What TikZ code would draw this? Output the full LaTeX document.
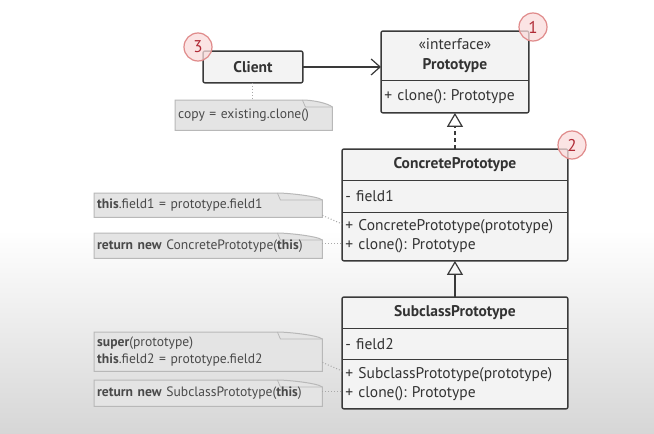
\documentclass[tikz,border=0pt]{standalone}
\usepackage{fontspec}
\setmainfont{PT Sans}
\usetikzlibrary{calc,arrows.meta}
\frenchspacing
\definecolor{boxfill}{HTML}{F3F3F3}
\definecolor{boxline}{HTML}{3A3A3A}
\definecolor{txt}{HTML}{333333}
\definecolor{notefill}{HTML}{E4E4E4}
\definecolor{noteline}{HTML}{B8B8B8}
\definecolor{notetxt}{HTML}{4A4A4A}
\definecolor{badgefill}{HTML}{FADCDC}
\definecolor{badgeline}{HTML}{E08A8A}
\definecolor{badgetxt}{HTML}{B02A36}
\definecolor{dotc}{HTML}{A8A8A8}
\tikzset{
  comp/.style={draw=boxline, fill=boxfill, line width=0.9pt, anchor=north west, inner sep=0pt, text=txt, font=\fontsize{15.5}{18}\selectfont},
  titlecomp/.style={comp, font=\fontsize{15.5}{18}\selectfont\bfseries, align=center},
  methcomp/.style={comp, align=left, text width=#1, inner xsep=3pt},
  outline/.style={draw=boxline, line width=1.4pt, rounded corners=2pt},
  notebox/.style={anchor=north west, inner xsep=3pt, inner ysep=0pt, align=left, text=notetxt, font=\fontsize{13.6}{17}\selectfont},
  noteshape/.style={fill=notefill, draw=noteline, line width=1pt},
  badge/.style={circle, minimum size=28pt, inner sep=0pt, fill=badgefill, fill opacity=0.75, text opacity=1, draw=badgeline, line width=1.2pt, text=badgetxt, font=\fontsize{17}{17}\selectfont},
  dotline/.style={draw=dotc, line width=1pt, dotted},
  assoc/.style={draw=boxline, line width=1.2pt, -{Straight Barb[length=9pt,width=16pt,line width=1.2pt]}},
  inherit/.style={draw=boxline, line width=1.2pt, -{Triangle[open,length=14pt,width=16pt,line width=1.2pt]}},
}
\newcommand{\notedraw}[2]{%
  \path[noteshape] (#1.north west) -- ($(#1.north east)+(-#2,0)$) .. controls ($(#1.north east)+(-#2+10,0)$) and ($(#1.north east)+(-5,3)$) .. ($(#1.north east)+(0,7)$) -- (#1.south east) -- (#1.south west) -- cycle;
  \draw[noteline, line width=0.8pt] ($(#1.north east)+(-#2,0)$) -- ($(#1.north east)+(-#2+3,7)$) -- ($(#1.north east)+(0,7)$);
}
\begin{document}
\begin{tikzpicture}[x=1pt,y=-1pt]
\useasboundingbox (0,0) rectangle (654,434);
\fill[white] (0,0) rectangle (654,230);
\shade[top color=white, bottom color=black!16] (0,230) rectangle (654,434);

% Client
\node[titlecomp, minimum width=99pt, minimum height=31pt] (cl) at (203,51) {Client};
\draw[outline] (cl.north west) rectangle (cl.south east);

% Prototype
\node[titlecomp, minimum width=147pt, minimum height=49pt, font=\fontsize{15.5}{20}\selectfont] (ptt) at (381,31) {\textnormal{«interface»}\\\textbf{Prototype}};
\node[methcomp=141pt, minimum height=32pt] (ptm) at (381,80) {+ clone(): Prototype};
\draw[outline] (ptt.north west) rectangle (ptm.south east);

% ConcretePrototype
\node[titlecomp, minimum width=225pt, minimum height=31pt] (cpt) at (342,149) {ConcretePrototype};
\node[methcomp=219pt, minimum height=32pt] (cpf) at (342,180) {- field1};
\node[methcomp=219pt, minimum height=48pt, font=\fontsize{15.5}{19}\selectfont] (cpm) at (342,212) {+ ConcretePrototype(prototype)\\+ clone(): Prototype};
\draw[outline] (cpt.north west) rectangle (cpm.south east);

% SubclassPrototype
\node[titlecomp, minimum width=225pt, minimum height=31pt] (spt) at (342,297) {SubclassPrototype};
\node[methcomp=219pt, minimum height=31pt] (spf) at (342,328) {- field2};
\node[methcomp=219pt, minimum height=49pt, font=\fontsize{15.5}{19}\selectfont] (spm) at (342,359) {+ SubclassPrototype(prototype)\\+ clone(): Prototype};
\draw[outline] (spt.north west) rectangle (spm.south east);

% notes
\node[notebox, minimum width=157pt, minimum height=30pt, text width=151pt] (cn) at (175,100) {\raisebox{-5pt}{copy = existing.clone()}};
\notedraw{cn}{30}
\node[notebox, minimum width=157pt, minimum height=30pt, text width=151pt] at (175,100) {\raisebox{-5pt}{copy = existing.clone()}};

\node[notebox, minimum width=228pt, minimum height=24pt, text width=222pt] (n1) at (94,193) {\textbf{this}.field1 = prototype.field1};
\notedraw{n1}{45}
\node[notebox, minimum width=228pt, minimum height=24pt, text width=222pt] at (94,193) {\textbf{this}.field1 = prototype.field1};

\node[notebox, minimum width=228pt, minimum height=25pt, text width=222pt] (n2) at (94,233) {\raisebox{-3pt}{\textbf{return new} ConcretePrototype(\textbf{this})}};
\notedraw{n2}{45}
\node[notebox, minimum width=228pt, minimum height=25pt, text width=222pt] at (94,233) {\raisebox{-3pt}{\textbf{return new} ConcretePrototype(\textbf{this})}};

\node[notebox, minimum width=228pt, minimum height=39pt, text width=222pt] (n3) at (94,332) {\textbf{super}(prototype)\\\textbf{this}.field2 = prototype.field2};
\notedraw{n3}{45}
\node[notebox, minimum width=228pt, minimum height=39pt, text width=222pt] at (94,332) {\textbf{super}(prototype)\\\textbf{this}.field2 = prototype.field2};

\node[notebox, minimum width=228pt, minimum height=26pt, text width=222pt] (n4) at (94,380) {\raisebox{-3pt}{\textbf{return new} SubclassPrototype(\textbf{this})}};
\notedraw{n4}{45}
\node[notebox, minimum width=228pt, minimum height=26pt, text width=222pt] at (94,380) {\raisebox{-3pt}{\textbf{return new} SubclassPrototype(\textbf{this})}};

% connectors
\draw[assoc] (cl.east) -- (cl.east -| ptt.west);
\draw[inherit, dashed, dash pattern=on 4pt off 3pt] (cpt.north) -- (ptm.south);
\draw[inherit] (spt.north) -- (cpm.south);

\coordinate (c1) at ($(cpm.north west)+(0,12)$);
\coordinate (c2) at ($(cpm.north west)+(0,31)$);
\coordinate (c3) at ($(spm.north west)+(0,12)$);
\coordinate (c4) at ($(spm.north west)+(0,32)$);
\draw[dotline] (cl.south) -- (cl.south |- cn.north);
\draw[dotline] ($(n1.south east)+(0,-2)$) -- (c1);
\draw[dotline] (n2.east |- c2) -- (c2);
\draw[dotline] ($(n3.south east)+(0,-9)$) -- (c3);
\draw[dotline] (n4.east |- c4) -- (c4);

% badges
\node[badge] (b3) at (198,47) {3};
\node[badge] (b1) at (533,27) {1};
\node[badge] (b2) at (572,145) {2};
\end{tikzpicture}
\end{document}
